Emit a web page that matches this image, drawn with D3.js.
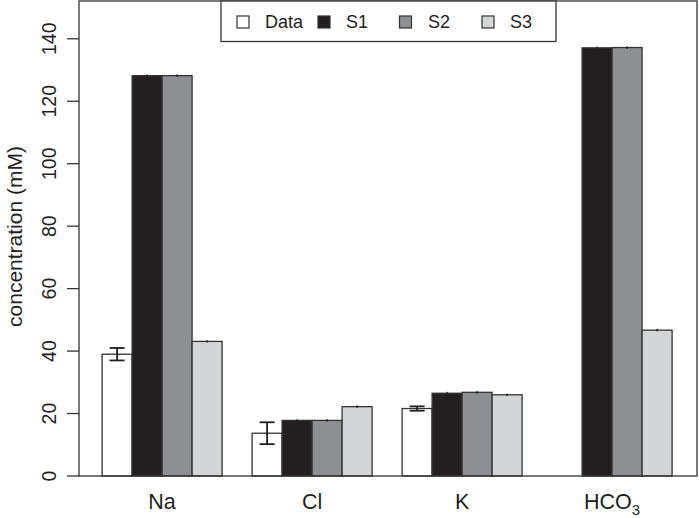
<!DOCTYPE html>
<html>
<head>
<meta charset="utf-8">
<script src="https://cdn.jsdelivr.net/npm/d3@7"></script>
<style>
  body { margin: 0; background: #fff; }
  text { font-family: "Liberation Sans", Arial, Helvetica, sans-serif; fill: #231f20; }
</style>
</head>
<body>
<div id="chart"></div>
<script>
const categories = ["Na", "Cl", "K", "HCO3"];
const seriesNames = ["Data", "S1", "S2", "S3"];
const seriesColors = ["#ffffff", "#231f20", "#8e8f92", "#d4d5d7"];
const dataVals = [39.0, 13.7, 21.6, null];
const dataErr = [2.0, 3.5, 0.7, null];
const s1Vals = [128.2, 17.8, 26.5, 137.1];
const s2Vals = [128.2, 17.8, 26.8, 137.2];
const s3Vals = [43.1, 22.2, 26.0, 46.7];
const modelErr = [0.15, 0.15, 0.15, 0.15];
const yTicks = [0, 20, 40, 60, 80, 100, 120, 140];

const width = 699, height = 518;
const pLeft = 79, pRight = 697, pTop = 1, pBottom = 476;

const svg = d3.select("#chart").append("svg")
    .attr("width", width)
    .attr("height", height);

// bar units, like R barplot(beside=TRUE): each group takes 4 bars + 1 gap
const x = d3.scaleLinear().domain([0.23, 20.83]).range([pLeft, pRight]);
const y = d3.scaleLinear().domain([0, 152.1]).range([pBottom, pTop]);

const allVals = [dataVals, s1Vals, s2Vals, s3Vals];
const allErr = [dataErr, modelErr, modelErr, modelErr];
const bars = [];
categories.forEach((c, g) => {
  seriesNames.forEach((s, i) => {
    const v = allVals[i][g];
    if (v == null) return;
    bars.push({g: g, i: i, v: v, e: allErr[i][g], x0: 1 + g * 5 + i});
  });
});

svg.append("g")
  .selectAll("rect")
  .data(bars)
  .enter()
  .append("rect")
    .attr("x", d => x(d.x0))
    .attr("y", d => y(d.v))
    .attr("width", d => x(d.x0 + 1) - x(d.x0))
    .attr("height", d => y(0) - y(d.v))
    .attr("fill", d => seriesColors[d.i])
    .attr("stroke", "#333")
    .attr("stroke-width", 1.3);

// error bars
const eb = svg.append("g").attr("stroke", "#231f20").attr("stroke-width", 1.8);
bars.forEach(d => {
  const cx = x(d.x0 + 0.5);
  const hw = d.i === 0 ? (x(d.x0 + 1) - x(d.x0)) / 4 : 0.5;
  eb.append("line").attr("x1", cx).attr("x2", cx)
    .attr("y1", y(d.v - d.e)).attr("y2", y(d.v + d.e));
  [d.v - d.e, d.v + d.e].forEach(t => {
    eb.append("line").attr("x1", cx - hw).attr("x2", cx + hw)
      .attr("y1", y(t)).attr("y2", y(t));
  });
});

// frame
svg.append("rect")
  .attr("x", pLeft).attr("y", pTop)
  .attr("width", pRight - pLeft).attr("height", pBottom - pTop)
  .attr("fill", "none").attr("stroke", "#333").attr("stroke-width", 1.3);

// y axis
const yAxis = svg.append("g")
  .attr("transform", `translate(${pLeft},0)`)
  .call(d3.axisLeft(y).tickValues(yTicks).tickSize(12).tickSizeOuter(0));
yAxis.select(".domain").remove();
yAxis.selectAll("line").attr("stroke", "#333").attr("stroke-width", 1.3);
yAxis.selectAll(".tick").attr("transform", null);
yAxis.selectAll(".tick line").attr("y1", d => y(d)).attr("y2", d => y(d));
yAxis.selectAll("text")
  .attr("x", 0).attr("y", 0).attr("dy", null)
  .attr("text-anchor", "middle")
  .attr("transform", d => `translate(-23,${y(d)}) rotate(-90)`)
  .style("font-size", "19.5px")
  .style("font-family", "'Liberation Sans', Arial, sans-serif")
  .attr("fill", "#231f20");

svg.append("text")
  .attr("transform", `translate(22,${(pTop + pBottom) / 2 - 2}) rotate(-90)`)
  .attr("text-anchor", "middle")
  .style("font-size", "21px")
  .text("concentration (mM)");

// category labels
categories.forEach((c, g) => {
  const t = svg.append("text")
    .attr("x", x(1 + g * 5 + 2))
    .attr("y", 509)
    .attr("text-anchor", "middle")
    .style("font-size", "21.5px");
  if (c === "HCO3") {
    t.append("tspan").text("HCO");
    t.append("tspan").attr("dy", 6).style("font-size", "15px").text("3");
  } else {
    t.text(c);
  }
});

// legend
const lg = svg.append("g");
lg.append("rect")
  .attr("x", 221).attr("y", pTop)
  .attr("width", 335).attr("height", 40.5)
  .attr("fill", "#fff").attr("stroke", "#333").attr("stroke-width", 1.3);
const legX = [237, 318, 399.5, 482];
const legTx = [265, 346, 428, 510];
seriesNames.forEach((s, i) => {
  lg.append("rect")
    .attr("x", legX[i]).attr("y", 16)
    .attr("width", 12).attr("height", 12)
    .attr("fill", seriesColors[i])
    .attr("stroke", "#333").attr("stroke-width", 1.2);
  lg.append("text")
    .attr("x", legTx[i]).attr("y", 28)
    .style("font-size", "18px")
    .text(s);
});
</script>
</body>
</html>
